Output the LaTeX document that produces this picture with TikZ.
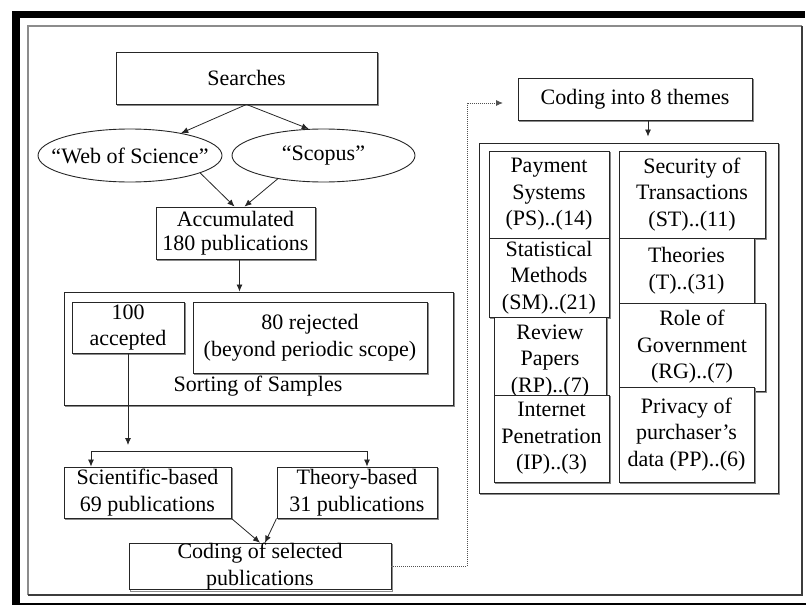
\documentclass[tikz,border=0pt]{standalone}
\usepackage{fontspec}
\setmainfont{Liberation Serif}
\usetikzlibrary{arrows.meta,shapes.geometric,calc,shadows}
\definecolor{lineC}{HTML}{262626}
\definecolor{frameL}{HTML}{8C8C8C}
\definecolor{frameD}{HTML}{3C3C3C}
\definecolor{shadowC}{HTML}{8A8A8A}
\begin{document}
\begin{tikzpicture}[x=1pt,y=-1pt,
  txt/.style={font=\fontsize{22}{26.5}\selectfont, text=black},
  box/.style={txt, draw=lineC, line width=0.9pt, fill=white, inner sep=0pt, align=center,
    general shadow={draw=shadowC, line width=1.2pt, fill=none, shadow xshift=1.3pt, shadow yshift=-1.3pt}},
  oval/.style={ellipse, draw=lineC, line width=0.9pt, fill=white, inner sep=0pt},
  arr/.style={-{Latex[length=7pt,width=6pt]}, draw=lineC, line width=0.8pt},
  dotarr/.style={-{Latex[length=7pt,width=6pt]}, draw=lineC!80, line width=0.9pt, dash pattern=on 1pt off 1pt}]
\useasboundingbox (0,0) rectangle (806,605);
% outer frame
\fill[black] (12,11) rectangle (805,18);
\fill[black] (12,11) rectangle (20,605);
\fill[black] (20,603) rectangle (806,605);
\draw[frameL, line width=2.5pt] (28,595) -- (28,26) -- (802,26);
\draw[frameD, line width=2pt] (802,26) -- (802,595) -- (28,595);

% left flow
\node[box, minimum width=261pt, minimum height=52pt] (searches) at (246.5,78) {Searches};
\node[oval, minimum width=184pt, minimum height=53pt, label={[txt]center:“Web of Science”}] (wos) at (130,155.5) {};
\node[oval, minimum width=183pt, minimum height=53pt, label={[txt]center:“Scopus”}] (scopus) at (323.5,155.5) {};
\node[box, minimum width=159pt, minimum height=52pt, font=\fontsize{22}{24}\selectfont] (acc) at (235.5,233) {Accumulated\\180 publications};
\node[box, minimum width=389pt, minimum height=113pt] (sorting) at (258.5,348.5) {};
\node[txt] (sortlbl) at (258,386) {Sorting of Samples};
\node[box, minimum width=112pt, minimum height=51pt] (accepted) at (128,327.5) {100\\accepted};
\node[box, minimum width=234pt, minimum height=71pt] (rejected) at (310,337.5) {80 rejected\\(beyond periodic scope)};
\node[box, minimum width=167pt, minimum height=51pt] (sci) at (147.5,492.5) {Scientific-based\\69 publications};
\node[box, minimum width=160pt, minimum height=51pt] (theory) at (357,492.5) {Theory-based\\31 publications};
\node[box, minimum width=262pt, minimum height=43pt] (codsel) at (260,566.5) {Coding of selected\\publications};

\draw[arr] (searches.south) -- (wos);
\draw[arr] (searches.south) -- (scopus.119);
\draw[arr] (wos.-14) -- ([xshift=-1pt]acc.north);
\draw[arr] (scopus.207) -- ([xshift=9pt]acc.north);
\draw[arr] ([xshift=4pt]acc.south) -- ([xshift=4pt]acc.south |- sorting.north);
\coordinate (accEnd) at (128,445);
\draw[arr] (accepted.south) -- (accEnd);
\coordinate (splitL) at (91,451);
\coordinate (splitR) at (367,451);
\draw[lineC, line width=0.9pt] (splitL) -- (splitR);
\draw[arr] (splitL) -- (splitL |- sci.north);
\draw[arr] (splitR) -- (splitR |- theory.north);
\draw[arr] (sci.south east) -- ([xshift=0pt]codsel.north);
\draw[arr] (theory.south west) -- ([xshift=5pt]codsel.north);

% right part
\node[box, minimum width=234pt, minimum height=42pt] (themes8) at (635,99) {Coding into 8 themes};
\coordinate (dotTop) at (467,103);
\coordinate (dotEnd) at (503,103);
\draw[dotarr] (codsel.east) -| (dotTop) -- (dotEnd);
\node[box, minimum width=299pt, minimum height=350pt] (container) at (628.5,318) {};
\draw[arr] ([xshift=13pt]themes8.south) -- ([xshift=13pt,yshift=6pt]themes8.south |- container.north);

\node[box, minimum width=120pt, minimum height=87pt] (ps) at (549,194.5) {Payment\\Systems\\(PS)..(14)};
\node[box, minimum width=146pt, minimum height=87pt] (st) at (692,194.5) {Security of\\Transactions\\(ST)..(11)};
\node[box, minimum width=120pt, minimum height=79pt] (sm) at (549,277.5) {Statistical\\Methods\\(SM)..(21)};
\node[box, minimum width=135pt, minimum height=65pt] (th) at (686.5,270.5) {Theories\\(T)..(31)};
\node[box, minimum width=146pt, minimum height=88pt] (rg) at (692,347) {Role of\\Government\\(RG)..(7)};
\node[box, minimum width=112pt, minimum height=78pt] (rp) at (550,356) {};
\node[txt, align=center] (rptxt) at (550,361) {Review\\Papers\\(RP)..(7)};
\node[box, minimum width=115pt, minimum height=87pt] (ip) at (551.5,438.5) {Internet\\Penetration\\(IP)..(3)};
\node[box, minimum width=135pt, minimum height=95pt] (pp) at (686.5,434.5) {Privacy of\\purchaser’s\\data (PP)..(6)};
\end{tikzpicture}
\end{document}
